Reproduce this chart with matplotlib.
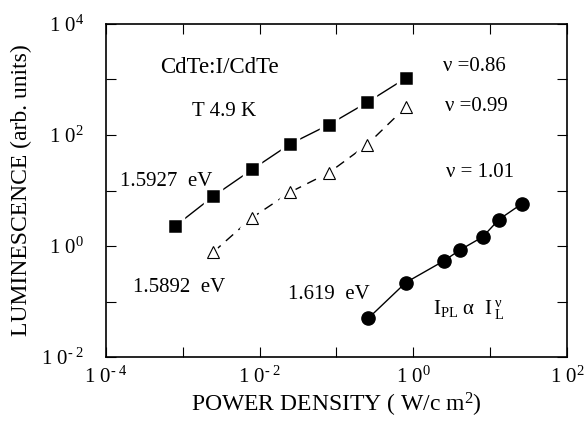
import numpy as np
import matplotlib
matplotlib.use("Agg")
import matplotlib.pyplot as plt
from matplotlib.ticker import FixedLocator, FuncFormatter, NullLocator

plt.rcParams['font.family'] = ['Liberation Serif', 'DejaVu Serif']
plt.rcParams['mathtext.fontset'] = 'custom'
plt.rcParams['mathtext.rm'] = 'Liberation Serif'
plt.rcParams['mathtext.it'] = 'Liberation Serif:italic'
plt.rcParams['mathtext.default'] = 'regular'

# data
x_sq = [8e-4, 2.5e-3, 8e-3, 2.5e-2, 8e-2, 0.25, 0.8]
y_sq = [2.3, 7.9, 24, 69, 154, 386, 1060]

x_tri = [2.5e-3, 8e-3, 2.5e-2, 8e-2, 0.25, 0.8]
y_tri = [0.78, 3.25, 9.35, 21, 67, 319]

x_circ = [0.26, 0.8, 2.5, 4.0, 8.0, 13, 26]
y_circ = [0.05, 0.22, 0.54, 0.84, 1.46, 3.0, 5.8]

x_decades = [-4, -3, -2, -1, 0, 1, 2]
y_decades = [-2, -1, 0, 1, 2, 3, 4]

fig = plt.figure(figsize=(5.87, 4.21), dpi=100)
ax = fig.add_axes([0.1806, 0.152, 0.7853, 0.791])

ax.plot(x_sq, y_sq, '-', color='black', lw=1, zorder=2)
ax.plot(x_sq, y_sq, 's', color='black', ms=12, mec='white', mew=2.5, ls='none', zorder=3)

ax.plot(x_tri, y_tri, color='black', lw=1, dashes=(7, 5), zorder=2)
ax.plot(x_tri, y_tri, '^', mfc='white', mec='white', ms=13, mew=3, ls='none', zorder=3)
ax.plot(x_tri, y_tri, '^', mfc='white', mec='black', ms=9, mew=0.8, ls='none', zorder=4)

ax.plot(x_circ, y_circ, '-o', color='black', lw=1, ms=9.5, zorder=3)

ax.set_xscale('log')
ax.set_yscale('log')
ax.set_xlim(1e-4, 1e2)
ax.set_ylim(1e-2, 1e4)


def dec_label(v, pos):
    e = int(round(np.log10(v)))
    if e % 2:
        return ''
    if e < 0:
        return r'1 0$^{\text{- %d}}$' % (-e)
    return r'1 0$^{%d}$' % e


ax.xaxis.set_major_locator(FixedLocator([10.0 ** e for e in x_decades]))
ax.yaxis.set_major_locator(FixedLocator([10.0 ** e for e in y_decades]))
ax.xaxis.set_minor_locator(NullLocator())
ax.yaxis.set_minor_locator(NullLocator())
ax.xaxis.set_major_formatter(FuncFormatter(dec_label))
ax.yaxis.set_major_formatter(FuncFormatter(dec_label))
ax.tick_params(which='both', direction='in', top=True, right=True,
               length=7, width=0.8, labelsize=15)
ax.tick_params(axis='x', pad=7)
ax.tick_params(axis='y', pad=16)
for s in ax.spines.values():
    s.set_linewidth(1.2)

ax.set_xlabel(r'POWER DENSITY ( W/c m$^{2}$)', fontsize=17, labelpad=2)
ax.set_ylabel('LUMINESCENCE (arb. units)', fontsize=17, labelpad=6)

kw = dict(transform=ax.transAxes, va='center', ha='left')
ax.text(0.117, 0.868, 'CdTe:I/CdTe', fontsize=16.5, **kw)
ax.text(0.187, 0.736, 'T 4.9 K', fontsize=15, **kw)
ax.text(0.030, 0.526, '1.5927  eV', fontsize=15, **kw)
ax.text(0.059, 0.210, '1.5892  eV', fontsize=15, **kw)
ax.text(0.395, 0.189, '1.619  eV', fontsize=15, **kw)
ax.text(0.731, 0.871, 'ν =0.86', fontsize=15, **kw)
ax.text(0.735, 0.751, 'ν =0.99', fontsize=15, **kw)
ax.text(0.738, 0.553, 'ν = 1.01', fontsize=15, **kw)
ax.text(0.709, 0.141, r'I$_{PL}$ α  I$_{\ L}^{\ ν}$', fontsize=15, **kw)

fig.savefig('out.png', dpi=100)
